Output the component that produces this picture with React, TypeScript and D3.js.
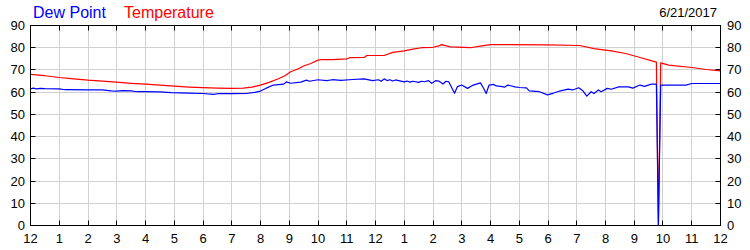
import React from "react";
import * as d3 from "d3";

const hourLabels = ["12","1","2","3","4","5","6","7","8","9","10","11","12","1","2","3","4","5","6","7","8","9","10","11","12"];
const yTicks = [0, 10, 20, 30, 40, 50, 60, 70, 80, 90];
const dateLabel = "6/21/2017";
const seriesNames = ["Dew Point", "Temperature"];

const tempHours = [0,0.5,1,1.5,2,2.5,3,3.5,4,4.5,5,5.5,6,6.5,7,7.4,7.7,8,8.3,8.6,8.85,9.05,9.3,9.5,9.75,10,10.1,10.5,11,11.1,11.6,11.7,12.3,12.6,13,13.3,13.6,14,14.2,14.3,14.6,15.3,15.7,16,18,19.1,19.6,20.2,20.7,21.2,21.77,21.84,21.92,22.2,23,23.5,24];
const tempValues = [68.0,67.4,66.6,66.0,65.4,65.0,64.5,64.0,63.6,63.2,62.7,62.3,62.0,61.8,61.7,61.8,62.3,63.2,64.4,65.9,67.4,69.2,70.4,71.8,72.9,74.4,74.6,74.6,75.0,75.5,75.6,76.5,76.5,77.9,78.6,79.4,80.0,80.2,80.8,81.4,80.4,80.0,80.8,81.4,81.3,81.0,79.6,78.6,77.4,75.6,73.5,0,73.2,72.2,71.1,70.2,69.6];

const dewHours = [0,0.1,0.2,0.35,0.5,1,1.2,2,2.5,2.8,3,3.2,3.5,3.7,4,4.5,4.9,5.5,6,6.37,6.5,7,7.5,7.8,8,8.2,8.45,8.8,8.9,9.05,9.4,9.6,9.7,10,10.3,10.5,10.8,11.2,11.6,11.9,12.1,12.2,12.3,12.4,12.5,12.6,12.7,12.8,13,13.1,13.2,13.3,13.5,13.6,13.7,13.85,13.95,14,14.1,14.2,14.35,14.45,14.55,14.75,14.85,15,15.2,15.4,15.65,15.75,15.85,15.95,16.1,16.2,16.35,16.5,16.6,16.7,16.85,17,17.25,17.35,17.7,17.98,18.2,18.4,18.7,18.85,19.07,19.2,19.35,19.5,19.6,19.75,19.85,20.06,20.2,20.46,20.8,20.95,21.2,21.35,21.6,21.77,21.84,21.92,22.8,23,24];
const dewValues = [61.5,61.8,61.5,61.7,61.6,61.5,61.1,61.0,61.0,60.6,60.5,60.7,60.6,60.2,60.2,60.1,59.8,59.6,59.4,59.0,59.3,59.3,59.4,59.9,60.5,61.8,63.2,63.6,64.6,64.0,64.5,65.4,64.9,65.6,65.2,65.6,65.3,65.7,66.0,65.2,65.6,64.9,66.0,65.2,65.6,65.0,65.5,65.2,64.6,65.0,64.5,64.9,64.4,64.9,64.7,65.2,64.0,64.4,65.2,65.0,63.7,64.9,64.6,59.5,62.5,63.2,61.7,63.2,64.2,62.0,59.4,63.2,63.5,62.8,62.6,62.3,63.2,62.9,62.4,62.1,61.9,60.6,60.2,58.8,59.6,60.5,61.4,61.0,62.0,60.8,58.2,60.2,59.4,61.0,60.2,61.7,61.3,62.4,62.4,61.8,63.2,62.6,63.6,63.6,0,63.2,63.2,63.9,63.9];

const W = 750;
const H = 250;
const L = 30.5, R = 720.5, T = 25.5, B = 225.5;

export default function App() {
  const x = d3.scaleLinear().domain([0, 24]).range([L, R]);
  const y = d3.scaleLinear().domain([0, 90]).range([B, T]);
  const line = d3.line<[number, number]>().x(d => x(d[0])).y(d => y(d[1]));
  const tempPts: [number, number][] = tempHours.map((h, i) => [h, tempValues[i]]);
  const dewPts: [number, number][] = dewHours.map((h, i) => [h, dewValues[i]]);
  const font = "'Liberation Sans', Arial, sans-serif";
  const snap = (v: number) => Math.round(v - 0.5) + 0.5;

  return (
    <div style={{ position: "absolute", left: 0, top: 0 }}>
      <svg width={W} height={H} style={{ display: "block", background: "#fff" }} fontFamily={font}>
        {hourLabels.map((_, i) => (
          <line key={"gx" + i} x1={snap(x(i))} x2={snap(x(i))} y1={T} y2={B} stroke="#d0d0d0" strokeWidth={1} />
        ))}
        {yTicks.map(v => (
          <line key={"gy" + v} x1={L} x2={R} y1={snap(y(v))} y2={snap(y(v))} stroke="#d0d0d0" strokeWidth={1} />
        ))}
        <path d={line(tempPts) || ""} fill="none" stroke="#ff0000" strokeWidth={1.2} strokeLinejoin="round" />
        <path d={line(dewPts) || ""} fill="none" stroke="#0000ff" strokeWidth={1.2} strokeLinejoin="round" />
        <rect x={L} y={T} width={R - L} height={B - T} fill="none" stroke="#000" strokeWidth={1} />
        {hourLabels.map((lab, i) => (
          <g key={"tx" + i}>
            <line x1={snap(x(i))} x2={snap(x(i))} y1={T} y2={T + 5} stroke="#000" />
            <line x1={snap(x(i))} x2={snap(x(i))} y1={B} y2={B - 5} stroke="#000" />
            <text x={x(i)} y={243} fontSize={13} textAnchor="middle" fill="#000">{lab}</text>
          </g>
        ))}
        {yTicks.map(v => (
          <g key={"ty" + v}>
            <line x1={L} x2={L + 5} y1={snap(y(v))} y2={snap(y(v))} stroke="#000" />
            <line x1={R} x2={R - 5} y1={snap(y(v))} y2={snap(y(v))} stroke="#000" />
            <text x={25} y={y(v)} dy="0.35em" fontSize={13} textAnchor="end" fill="#000">{v}</text>
            <text x={727} y={y(v)} dy="0.35em" fontSize={13} textAnchor="start" fill="#000">{v}</text>
          </g>
        ))}
        <text x={33} y={18} fontSize={16} fill="#0000ff">{seriesNames[0]}</text>
        <text x={124} y={18} fontSize={16} fill="#ff0000">{seriesNames[1]}</text>
        <text x={717} y={17} fontSize={13} textAnchor="end" fill="#000">{dateLabel}</text>
      </svg>
    </div>
  );
}
